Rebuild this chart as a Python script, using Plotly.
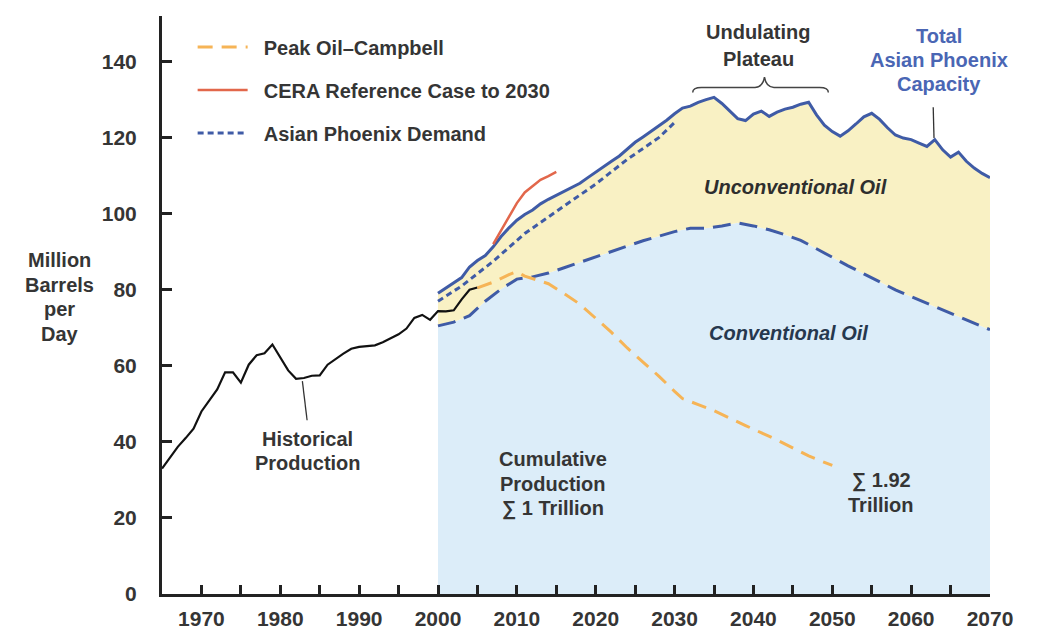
import plotly.graph_objects as go

# ---------------- data ----------------
hist_years = list(range(1965, 2006))
hist_values = [33.0, 35.8, 38.7, 41.0, 43.5, 48.0, 50.8, 53.8, 58.3, 58.3,
               55.6, 60.3, 62.8, 63.3, 65.6, 62.3, 58.8, 56.6, 56.8, 57.4,
               57.5, 60.3, 61.8, 63.2, 64.5, 65.0, 65.2, 65.4, 66.2, 67.2,
               68.3, 69.8, 72.6, 73.4, 72.1, 74.4, 74.3, 74.6, 77.5, 80.0,
               80.6]

cap_years = list(range(2000, 2071))
cap_values = [79.1, 80.5, 81.8, 83.2, 86.0, 87.7, 89.0, 91.3, 94.0, 96.3,
              98.3, 99.8, 101.0, 102.6, 103.8, 104.8, 105.8, 107.0, 108.0, 109.5,
              111.0, 112.3, 113.8, 115.2, 117.0, 118.8, 120.2, 121.6, 123.0, 124.6,
              126.3, 127.8, 128.3, 129.3, 130.0, 130.6, 129.0, 127.0, 125.0, 124.5,
              126.2, 127.0, 125.6, 126.7, 127.5, 128.0, 128.8, 129.3, 126.0, 123.3,
              121.6, 120.4, 121.8, 123.6, 125.5, 126.4, 124.8, 122.6, 120.7, 119.9,
              119.5, 118.6, 117.7, 119.5, 116.8, 114.9, 116.2, 113.8, 112.0, 110.6,
              109.5]

conv_years = [2000, 2002, 2004, 2006, 2008, 2010, 2012, 2014, 2016, 2018,
              2020, 2022, 2024, 2026, 2028, 2030, 2032, 2034, 2036, 2038,
              2040, 2042, 2044, 2046, 2048, 2050, 2052, 2054, 2056, 2058,
              2060, 2062, 2064, 2066, 2068, 2070]
conv_values = [70.5, 71.5, 73.2, 77.0, 80.2, 82.8, 83.4, 84.4, 85.8, 87.2,
               88.7, 90.2, 91.6, 92.9, 94.1, 95.3, 96.2, 96.2, 96.8, 97.6,
               96.8, 95.8, 94.5, 93.0, 90.8, 88.5, 86.3, 84.2, 82.0, 80.0,
               78.2, 76.5, 74.8, 73.0, 71.2, 69.5]

demand_years = [2000, 2003, 2007, 2011, 2015, 2020, 2024, 2028, 2030]
demand_values = [77.0, 81.0, 87.5, 94.8, 100.6, 107.8, 114.3, 120.0, 124.0]

peak_years = [2005, 2007, 2009, 2010, 2011, 2012, 2014, 2016, 2018, 2020,
              2022, 2024, 2026, 2028, 2030, 2031, 2033, 2035, 2039, 2043,
              2047, 2050]
peak_values = [80.5, 82.0, 84.0, 84.8, 83.6, 83.0, 81.6, 79.0, 76.2, 72.5,
               68.8, 64.7, 61.0, 57.3, 53.3, 51.4, 49.8, 48.2, 44.3, 40.5,
               36.3, 33.8]

cera_years = [2007, 2008, 2009, 2010, 2011, 2012, 2013, 2014, 2015]
cera_values = [92.0, 95.5, 99.2, 102.8, 105.6, 107.2, 108.9, 109.9, 111.0]

x_tick_vals = list(range(1970, 2071, 5))
x_tick_text = [str(v) if v % 10 == 0 else "" for v in x_tick_vals]
y_tick_vals = [0, 20, 40, 60, 80, 100, 120, 140]

# ---------------- styles ----------------
FONT = "Liberation Sans, Arial, sans-serif"
TXT = "#353535"
AXIS = "#222222"
BLUE_FILL = "#dcedf9"
YELLOW_FILL = "#f9f1c4"
BLUE_LINE = "#3f5ba6"
ORANGE = "#f6b456"
RED = "#e2674b"
GAP = "\u00a0\u00a0"

fig = go.Figure()

fig.add_trace(go.Scatter(x=conv_years, y=conv_values, mode="lines",
                         line=dict(width=0), fill="tozeroy",
                         fillcolor=BLUE_FILL, showlegend=False,
                         hoverinfo="skip"))
fig.add_trace(go.Scatter(x=cap_years, y=cap_values, mode="lines",
                         line=dict(width=0), fill="tonexty",
                         fillcolor=YELLOW_FILL, showlegend=False,
                         hoverinfo="skip"))
fig.add_trace(go.Scatter(x=conv_years, y=conv_values, mode="lines",
                         line=dict(color=BLUE_LINE, width=3, dash="18px,9px"),
                         showlegend=False))
fig.add_trace(go.Scatter(x=cap_years, y=cap_values, mode="lines",
                         line=dict(color=BLUE_LINE, width=3),
                         showlegend=False))
fig.add_trace(go.Scatter(x=hist_years, y=hist_values, mode="lines",
                         line=dict(color="#111111", width=2.2),
                         showlegend=False))
fig.add_trace(go.Scatter(x=peak_years, y=peak_values, mode="lines",
                         name=GAP + "Peak Oil\u2013Campbell", legendgroup="a",
                         legendrank=1,
                         line=dict(color=ORANGE, width=3, dash="15px,9px")))
fig.add_trace(go.Scatter(x=cera_years, y=cera_values, mode="lines",
                         name=GAP + "CERA Reference Case to 2030", legendgroup="b",
                         legendrank=2,
                         line=dict(color=RED, width=2.5)))
fig.add_trace(go.Scatter(x=demand_years, y=demand_values, mode="lines",
                         name=GAP + "Asian Phoenix Demand", legendgroup="c",
                         legendrank=3,
                         line=dict(color=BLUE_LINE, width=3, dash="6px,4px")))


def block(x, y, lines, color=TXT, size=20, xanchor="center", xref="x",
          spacing=24.5, italic=False):
    n = len(lines)
    for i, line in enumerate(lines):
        t = "<i>" + line + "</i>" if italic else line
        fig.add_annotation(x=x, y=y, xref=xref, yref="y", text=t,
                           showarrow=False, xanchor=xanchor, yanchor="middle",
                           yshift=((n - 1) / 2 - i) * spacing,
                           font=dict(family=FONT, size=size, color=color,
                                     weight="bold"))


block(-0.1232, 78.1, ["Million", "Barrels", "per", "Day"], xref="paper")
block(1983.5, 37.55, ["Historical", "Production"])
block(2014.6, 29.06, ["Cumulative", "Production", "\u2211 1 Trillion"])
block(2056.2, 26.5, ["\u2211 1.92", "Trillion"])
block(2045.3, 107.0, ["Unconventional Oil"], color="#2e2e2e", italic=True)
block(2044.4, 68.7, ["Conventional Oil"], color="#26384e", italic=True)
block(2071.0, 101.6, ["\u2211 3.61", "Trillion"], xanchor="left")
block(2071.0, 68.9, ["\u2211 2.93", "Trillion"], xanchor="left")
block(2040.6, 144.3, ["Undulating", "Plateau"], spacing=26.5)
block(2063.5, 140.35, ["Total", "Asian Phoenix", "Capacity"],
      color="#4a66b4", spacing=24)

# leader lines
fig.add_shape(type="line", x0=1982.8, y0=56.0, x1=1983.4, y1=45.7,
              line=dict(color="#333333", width=1.3))
fig.add_shape(type="line", x0=2062.8, y0=128.0, x1=2062.9, y1=119.9,
              line=dict(color="#333333", width=1.3))
# bracket for undulating plateau
fig.add_shape(type="path",
              path=("M 2032.3 131.9 Q 2032.3 133.2 2033.4 133.2 L 2040.2 133.2 "
                    "Q 2041.2 133.3 2041.4 135.9 Q 2041.6 133.3 2042.6 133.2 "
                    "L 2048.4 133.2 Q 2049.5 133.2 2049.5 131.9"),
              line=dict(color="#444444", width=1.5))

fig.update_layout(
    width=1062, height=630,
    margin=dict(l=154, r=80, t=8, b=27),
    paper_bgcolor="white", plot_bgcolor="white",
    font=dict(family=FONT, size=20, color=TXT, weight="bold"),
    legend=dict(x=0.037, y=0.98, xanchor="left", yanchor="top",
                bgcolor="rgba(0,0,0,0)", tracegroupgap=14, itemwidth=50,
                font=dict(family=FONT, size=20, color=TXT, weight="bold")),
    xaxis=dict(range=[1965, 2070], tickvals=x_tick_vals, ticktext=x_tick_text,
               ticks="inside", ticklen=9, tickwidth=3, tickcolor=AXIS,
               showline=True, linecolor=AXIS, linewidth=3, showgrid=False,
               zeroline=False, ticklabelstandoff=4,
               tickfont=dict(family=FONT, size=21, color=TXT, weight="bold")),
    yaxis=dict(range=[0, 152], tickvals=y_tick_vals,
               ticks="inside", ticklen=10, tickwidth=3, tickcolor=AXIS,
               showline=True, linecolor=AXIS, linewidth=3, showgrid=False,
               zeroline=False, ticklabelstandoff=18,
               tickfont=dict(family=FONT, size=21, color=TXT, weight="bold")),
)

fig.write_html("out.html")
